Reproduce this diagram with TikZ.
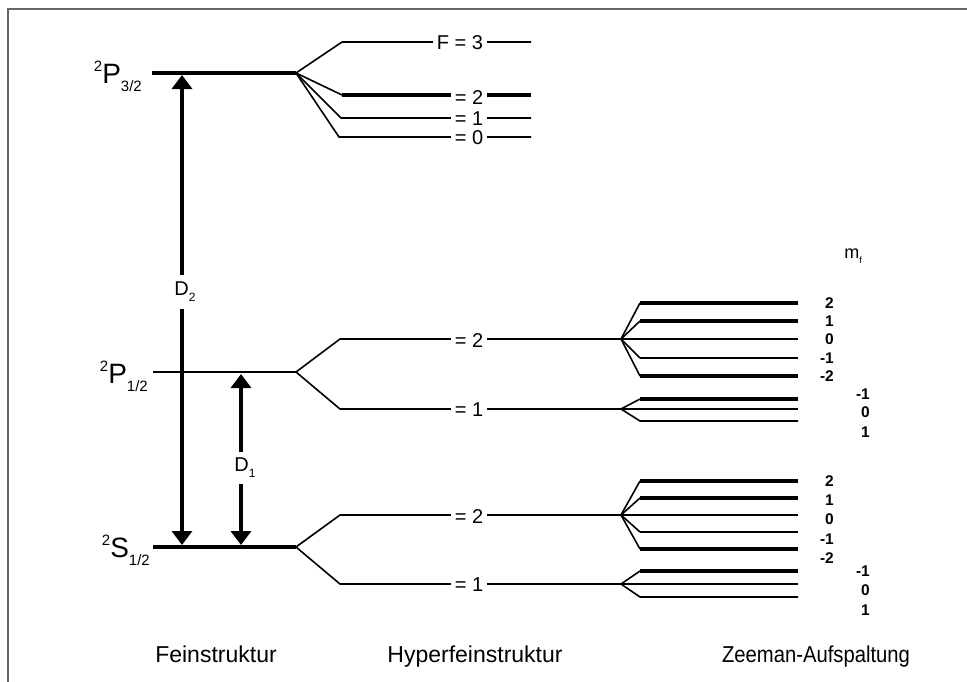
\documentclass[tikz,border=0pt]{standalone}
\usepackage{fontspec}
\setmainfont{Liberation Sans}
\usetikzlibrary{arrows.meta}

% term symbol: superscript multiplicity, letter, subscript J
\newcommand\termsym[3]{\raisebox{0.42em}{\fontsize{15}{15}\selectfont #1}#2\raisebox{-0.3em}{\fontsize{15}{15}\selectfont #3}}
\newcommand\lineD[1]{D\raisebox{-0.3em}{\fontsize{12}{12}\selectfont #1}}

\begin{document}
\begin{tikzpicture}[x=1pt,y=-1pt,
  frame/.style={draw=black!60,line width=2pt},
  thinlvl/.style={line width=1.6pt},
  medlvl/.style={line width=2.2pt},
  thicklvl/.style={line width=3.3pt},
  branch/.style={line width=1.6pt,line join=round},
  transition/.style={line width=3.3pt,{Triangle[length=14pt,width=20pt]}-{Triangle[length=14pt,width=20pt]}},
  termlbl/.style={anchor=base east,font=\fontsize{28}{28}\selectfont,inner sep=0pt},
  flbl/.style={fill=white,font=\fontsize{20}{20}\selectfont,inner xsep=4pt,inner ysep=1pt},
  dlbl/.style={fill=white,font=\fontsize{20}{20}\selectfont,inner xsep=2pt},
  mlbl/.style={font=\fontsize{15.5}{15.5}\selectfont\bfseries,inner sep=0pt},
  caption/.style={anchor=base,font=\fontsize{23}{23}\selectfont}]
\useasboundingbox (0,0) rectangle (967,681);
\fill[white] (0,0) rectangle (967,681);
\draw[frame] (8,690) -- (8,9) -- (975,9);

% ---------------- fine structure ----------------
\coordinate (P32s) at (152,73);  \coordinate (P32) at (296,73);
\coordinate (P12s) at (153,372); \coordinate (P12) at (296,372);
\coordinate (S12s) at (153,547); \coordinate (S12) at (296,547);
\draw[thicklvl] (P32s) -- (P32);
\draw[thinlvl]  (P12s) -- (P12);
\draw[thicklvl] (S12s) -- (S12);
\node[termlbl] (lP32) at (142,83)  {\termsym{2}{P}{3/2}};
\node[termlbl] (lP12) at (148,383) {\termsym{2}{P}{1/2}};
\node[termlbl] (lS12) at (150,557) {\termsym{2}{S}{1/2}};

% D lines
\coordinate (D2t) at (182,75);  \coordinate (D2b) at (182,545);
\coordinate (D1t) at (241,374); \coordinate (D1b) at (241,545);
\draw[transition] (D2t) -- (D2b);
\draw[transition] (D1t) -- (D1b);
\node[dlbl,inner ysep=7pt] (D2) at (185,292) {\lineD{2}};
\node[dlbl,inner ysep=6pt] (D1) at (245,468) {\lineD{1}};

% ---------------- hyperfine structure ----------------
% 2P3/2
\coordinate (F3) at (342,42);  \coordinate (F3e) at (531,42);
\coordinate (F2) at (342,95);  \coordinate (F2e) at (531,95);
\coordinate (F1) at (341,118); \coordinate (F1e) at (531,118);
\coordinate (F0) at (339,137); \coordinate (F0e) at (531,137);
\draw[branch] (P32) -- (F3) -- (F3e);
\draw[branch] (P32) -- (F2);
\draw[thicklvl] (F2) -- (F2e);
\draw[branch] (P32) -- (F1) -- (F1e);
\draw[branch] (P32) -- (F0) -- (F0e);
\node[flbl] (tF3) at (460,43)  {F = 3};
\node[flbl] (tF2) at (469,98)  {= 2};
\node[flbl] (tF1) at (469,119) {= 1};
\node[flbl] (tF0) at (469,138) {= 0};

% 2P1/2
\coordinate (pA) at (340,339); \coordinate (pZA) at (621,339);
\coordinate (pB) at (340,409); \coordinate (pZB) at (621,409);
\draw[branch] (P12) -- (pA) -- (pZA);
\draw[branch] (P12) -- (pB) -- (pZB);
\node[flbl] (tpA) at (469,341) {= 2};
\node[flbl] (tpB) at (469,410) {= 1};

% 2S1/2
\coordinate (sA) at (340,515); \coordinate (sZA) at (621,515);
\coordinate (sB) at (340,584); \coordinate (sZB) at (621,584);
\draw[branch] (S12) -- (sA) -- (sZA);
\draw[branch] (S12) -- (sB) -- (sZB);
\node[flbl] (tsA) at (469,517) {= 2};
\node[flbl] (tsB) at (469,585) {= 1};

% ---------------- Zeeman splitting ----------------
\node[font=\fontsize{18}{18}\selectfont,inner sep=0pt] (mf) at (853,256) {m\raisebox{-0.3em}{\fontsize{9}{9}\selectfont f}};

% 2P1/2, F = 2
\foreach \y/\s/\t in {303/thicklvl/2, 321/thicklvl/1, 358/thinlvl/-1, 376/thicklvl/-2}{
  \draw[branch] (pZA) -- (640,\y);
  \draw[\s] (640,\y) -- (798,\y);
  \node[mlbl,anchor=east] at (834,\y) {\t};
}
\draw[thinlvl] (pZA) -- (798,339);
\node[mlbl,anchor=east] at (834,339) {0};
% 2P1/2, F = 1
\draw[branch] (pZB) -- (640,399);
\draw[thicklvl] (640,399) -- (798,399);
\draw[medlvl] (pZB) -- (798,409);
\draw[branch] (pZB) -- (640,421) -- (798,421);
\node[mlbl,anchor=east] at (870,394) {-1};
\node[mlbl,anchor=east] at (870,412) {0};
\node[mlbl,anchor=east] at (870,432) {1};

% 2S1/2, F = 2
\foreach \y/\s/\t/\ly in {481/thicklvl/2/481, 498/thicklvl/1/500, 532/thinlvl/-1/539, 549/thicklvl/-2/558}{
  \draw[branch] (sZA) -- (640,\y);
  \draw[\s] (640,\y) -- (798,\y);
  \node[mlbl,anchor=east] at (834,\ly) {\t};
}
\draw[medlvl] (sZA) -- (798,515);
\node[mlbl,anchor=east] at (834,519) {0};
% 2S1/2, F = 1
\draw[branch] (sZB) -- (640,571);
\draw[thicklvl] (640,571) -- (798,571);
\draw[thinlvl] (sZB) -- (798,584);
\draw[branch] (sZB) -- (640,597) -- (798,597);
\node[mlbl,anchor=east] at (870,571) {-1};
\node[mlbl,anchor=east] at (870,590) {0};
\node[mlbl,anchor=east] at (870,610) {1};

% ---------------- column captions ----------------
\node[caption] (cF) at (216,662) {Feinstruktur};
\node[caption] (cH) at (475,662) {Hyperfeinstruktur};
\node[caption] (cZ) at (816,662) {\scalebox{0.88}[1]{Zeeman-Aufspaltung}};
\end{tikzpicture}
\end{document}
